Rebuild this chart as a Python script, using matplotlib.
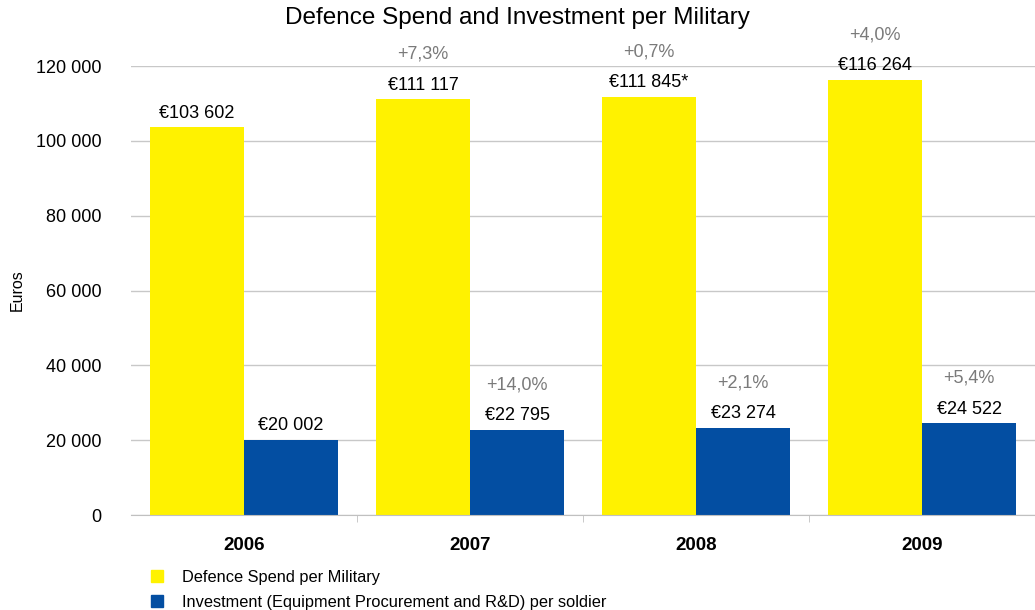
import matplotlib
matplotlib.use("Agg")
import matplotlib.pyplot as plt
import numpy as np

years = ["2006", "2007", "2008", "2009"]
spend = [103602, 111117, 111845, 116264]
invest = [20002, 22795, 23274, 24522]
spend_labels = ["€103 602", "€111 117", "€111 845*", "€116 264"]
invest_labels = ["€20 002", "€22 795", "€23 274", "€24 522"]
spend_pct = ["", "+7,3%", "+0,7%", "+4,0%"]
invest_pct = ["", "+14,0%", "+2,1%", "+5,4%"]
yticks = [0, 20000, 40000, 60000, 80000, 100000, 120000]
ytick_labels = ["0", "20 000", "40 000", "60 000", "80 000", "100 000", "120 000"]
series_names = ["Defence Spend per Military",
                "Investment (Equipment Procurement and R&D) per soldier"]

plt.rcParams['font.family'] = ['Liberation Sans', 'DejaVu Sans']

YELLOW = "#FFF200"
BLUE = "#034EA2"

fig = plt.figure(figsize=(10.35, 6.1), dpi=100)
ax = fig.add_axes([131/1035, 1-515/610, 1-131/1035, (515-66)/610])

x = np.arange(len(years))
w = 0.416
b1 = ax.bar(x - w/2, spend, w, color=YELLOW, zorder=2)
b2 = ax.bar(x + w/2, invest, w, color=BLUE, zorder=2)

ax.set_xlim(-0.5, 3.5)
ax.set_ylim(0, 120000)
ax.set_yticks(yticks)
ax.set_yticklabels(ytick_labels, fontsize=13)
ax.tick_params(axis='y', length=0, pad=21)
ax.yaxis.grid(True, color="#c8c8c8", lw=1, zorder=0)
ax.set_axisbelow(True)

ax.set_xticks(x)
ax.set_xticklabels(years, fontsize=13.5, fontweight='bold')
ax.tick_params(axis='x', length=0, pad=16)
ax.set_xticks(np.arange(0.5, 3.5, 1), minor=True)
ax.tick_params(axis='x', which='minor', length=5, color="#c0c0c0")

for s in ["top", "right", "left"]:
    ax.spines[s].set_visible(False)
ax.spines["bottom"].set_color("#c0c0c0")

ax.set_ylabel("Euros", fontsize=11.5, labelpad=8)
fig.text(0.5, 1-18/610, "Defence Spend and Investment per Military",
         ha='center', va='center', fontsize=17.5)

for bars, labels, pcts in [(b1, spend_labels, spend_pct), (b2, invest_labels, invest_pct)]:
    for bar, lab, pct in zip(bars, labels, pcts):
        cx = bar.get_x() + bar.get_width()/2
        h = bar.get_height()
        ax.annotate(lab, (cx, h), xytext=(0, 7), textcoords='offset points',
                    ha='center', va='baseline', fontsize=13, clip_on=False)
        if pct:
            ax.annotate(pct, (cx, h), xytext=(0, 29), textcoords='offset points',
                        ha='center', va='baseline', fontsize=13, color="#7a7a7a",
                        clip_on=False)

# legend
from matplotlib.patches import Patch
handles = [Patch(color=YELLOW), Patch(color=BLUE)]
leg = fig.legend(handles, series_names, loc='upper left',
                 bbox_to_anchor=(151/1035, 1-570/610), frameon=False,
                 fontsize=11.8, handlelength=0.72, handleheight=0.72,
                 handletextpad=1.15, labelspacing=0.6, borderpad=0,
                 borderaxespad=0)

fig.savefig("out.png", dpi=100)
